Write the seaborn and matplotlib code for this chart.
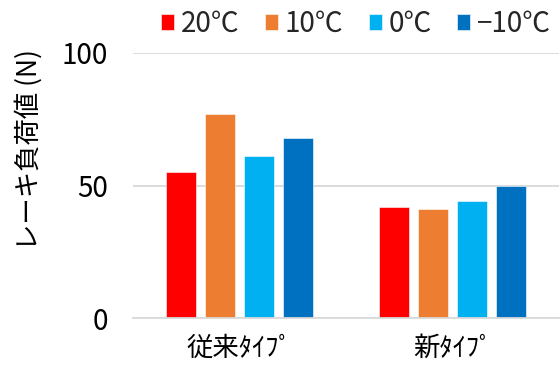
import matplotlib
matplotlib.use("Agg")
import matplotlib.pyplot as plt
import seaborn as sns
import pandas as pd

# Brake load by product type and temperature
categories = ["従来ﾀｲﾌﾟ", "新ﾀｲﾌﾟ"]
temperatures = ["20℃", "10℃", "0℃", "−10℃"]
load_20 = [55, 42]
load_10 = [77, 41]
load_0 = [61, 44]
load_m10 = [68, 50]
yticks = [0, 50, 100]

colors = ["#FF0000", "#ED7D31", "#00B0F0", "#0070C0"]

rows = []
for temp, vals in zip(temperatures, [load_20, load_10, load_0, load_m10]):
    for cat, v in zip(categories, vals):
        rows.append({"type": cat, "temp": temp, "load": v})
df = pd.DataFrame(rows)

sns.set_theme(style="white")
plt.rcParams["font.family"] = ["Noto Sans CJK JP", "DejaVu Sans"]

fig = plt.figure(figsize=(5.6, 3.67), dpi=100)
ax = fig.add_axes([133 / 560, 1 - 318 / 367, 426 / 560, 265 / 367])

sns.barplot(data=df, x="type", y="load", hue="temp", order=categories,
            hue_order=temperatures, palette=colors, saturation=1,
            width=0.73, gap=0.22, edgecolor="#ffffff", linewidth=0.4,
            ax=ax, legend=True)

ax.set_ylim(0, 100)
ax.set_xlim(-0.5, 1.5)
ax.set_yticks(yticks)
ax.set_yticklabels([str(t) for t in yticks])
ax.yaxis.grid(True, color="#D9D9D9", linewidth=1.3)
ax.set_axisbelow(True)
for side in ["top", "right", "left"]:
    ax.spines[side].set_visible(False)
ax.spines["bottom"].set_color("#D9D9D9")
ax.spines["bottom"].set_linewidth(1.3)

ax.tick_params(axis="y", length=0, pad=18, labelsize=20, labelcolor="#000000")
ax.tick_params(axis="x", length=0, pad=12, labelsize=19, labelcolor="#000000")

ax.set_xlabel("")
ax.set_ylabel("レーキ負荷値 (N)", fontsize=19, color="#000000")
ax.yaxis.set_label_coords(-(133 - 43) / 426, (318 - 150) / 265)

handles, labels = ax.get_legend_handles_labels()
ax.legend(handles, labels, ncol=4, frameon=False, fontsize=20,
          loc="center", bbox_to_anchor=((356 - 133) / 426, (318 - 24) / 265),
          handlelength=0.47, handleheight=0.47, handletextpad=0.25,
          columnspacing=0.9, borderaxespad=0, borderpad=0)

fig.savefig("out.png", dpi=100)
